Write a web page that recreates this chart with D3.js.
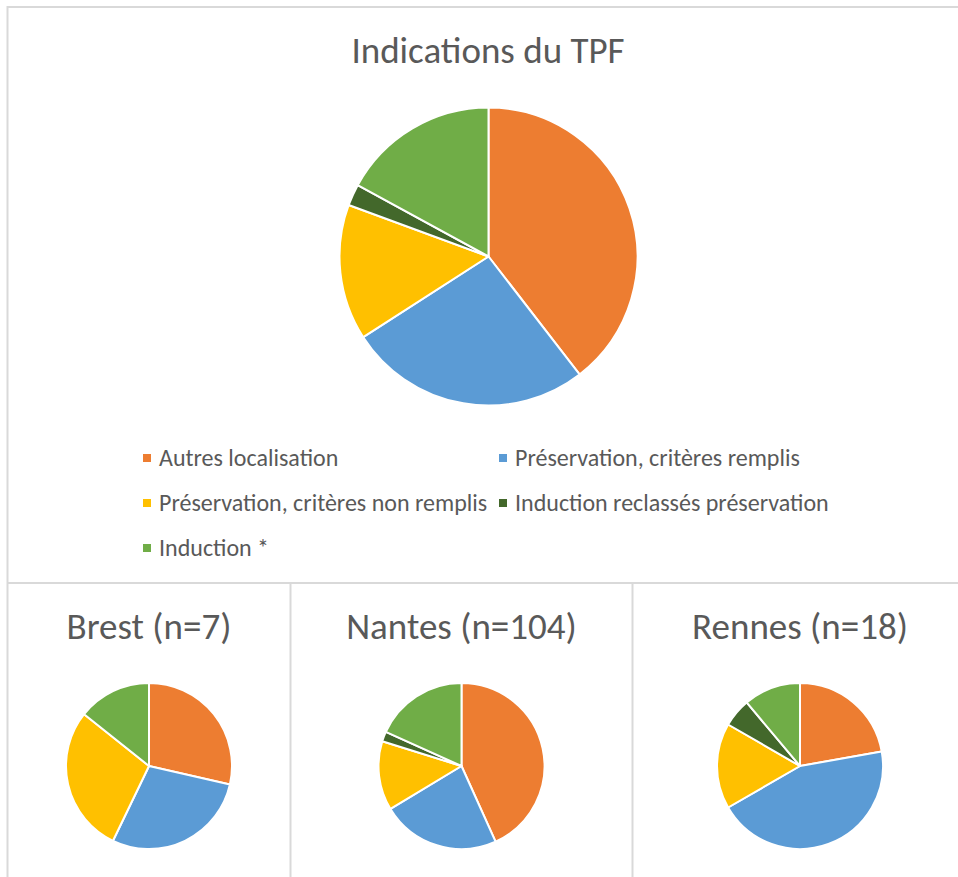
<!DOCTYPE html>
<html>
<head>
<meta charset="utf-8">
<script src="https://cdn.jsdelivr.net/npm/d3@7"></script>
<style>
	body { margin: 0; background: #fff; }
	text { font-family: Carlito, Calibri, Lato, sans-serif; fill: #595959; }
</style>
</head>
<body>
<script>
// categories and colours
let categories = ["Autres localisation", "Préservation, critères remplis",
	"Préservation, critères non remplis", "Induction reclassés préservation", "Induction *"];
let colors = ["#ED7D31", "#5B9BD5", "#FFC000", "#43682B", "#70AD47"];

// counts per centre
let totalValues = [51, 34, 19, 3, 22];
let brestValues = [2, 2, 2, 0, 1];
let nantesValues = [45, 24, 14, 2, 19];
let rennesValues = [4, 8, 3, 1, 2];

let mainTitle = "Indications du TPF";
let smallTitles = ["Brest (n=7)", "Nantes (n=104)", "Rennes (n=18)"];

let width = 958;
let height = 877;
let borderColor = "#D9D9D9";

let svg = d3.select("body").append("svg")
	.attr("width", width)
	.attr("height", height);

// panel borders
let borders = [
	[7, 7, width, 7],
	[7.5, 6, 7.5, height],
	[7, 583, width, 583],
	[290.5, 583, 290.5, height],
	[632.5, 583, 632.5, height]
];
svg.selectAll(".border")
		.data(borders)
	.enter().append("line")
		.attr("class", "border")
		.attr("x1", function(d) { return d[0]; })
		.attr("y1", function(d) { return d[1]; })
		.attr("x2", function(d) { return d[2]; })
		.attr("y2", function(d) { return d[3]; })
		.attr("stroke", borderColor)
		.attr("stroke-width", 2);

let color = d3.scaleOrdinal().domain(categories).range(colors);

let pie = d3.pie()
	.sort(null)
	.value(function(d) { return d.value; });

// draws one pie centred on cx, cy
function drawPie(values, cx, cy, r) {
	let data = values.map(function(v, i) { return {name: categories[i], value: v}; });
	let arc = d3.arc().innerRadius(0).outerRadius(r);
	let g = svg.append("g")
		.attr("transform", "translate(" + cx + "," + cy + ")");
	g.selectAll("path")
			.data(pie(data).filter(function(d) { return d.data.value > 0; }))
		.enter().append("path")
			.attr("d", arc)
			.attr("fill", function(d) { return color(d.data.name); })
			.attr("stroke", "#fff")
			.attr("stroke-width", 2)
			.attr("stroke-linejoin", "round");
}

// main chart
svg.append("text")
	.attr("x", 488)
	.attr("y", 63)
	.attr("text-anchor", "middle")
	.attr("font-size", 37)
	.text(mainTitle);

drawPie(totalValues, 488.5, 256.5, 149);

// legend
let legendPos = [[143, 458], [499, 458], [143, 503], [499, 503], [143, 548]];
let legend = svg.selectAll(".legend")
		.data(categories)
	.enter().append("g")
		.attr("class", "legend")
		.attr("transform", function(d, i) { return "translate(" + legendPos[i][0] + "," + legendPos[i][1] + ")"; });

legend.append("rect")
	.attr("x", 0)
	.attr("y", -4)
	.attr("width", 8)
	.attr("height", 8)
	.attr("fill", function(d) { return color(d); });

legend.append("text")
	.attr("x", 16)
	.attr("y", 8)
	.attr("font-size", 24)
	.text(function(d) { return d; });

// small multiples
let smallData = [brestValues, nantesValues, rennesValues];
let smallCenters = [149, 461.5, 800];

smallData.forEach(function(values, i) {
	svg.append("text")
		.attr("x", smallCenters[i])
		.attr("y", 639)
		.attr("text-anchor", "middle")
		.attr("font-size", 37)
		.text(smallTitles[i]);
	drawPie(values, smallCenters[i], 766, 83);
});
</script>
</body>
</html>
